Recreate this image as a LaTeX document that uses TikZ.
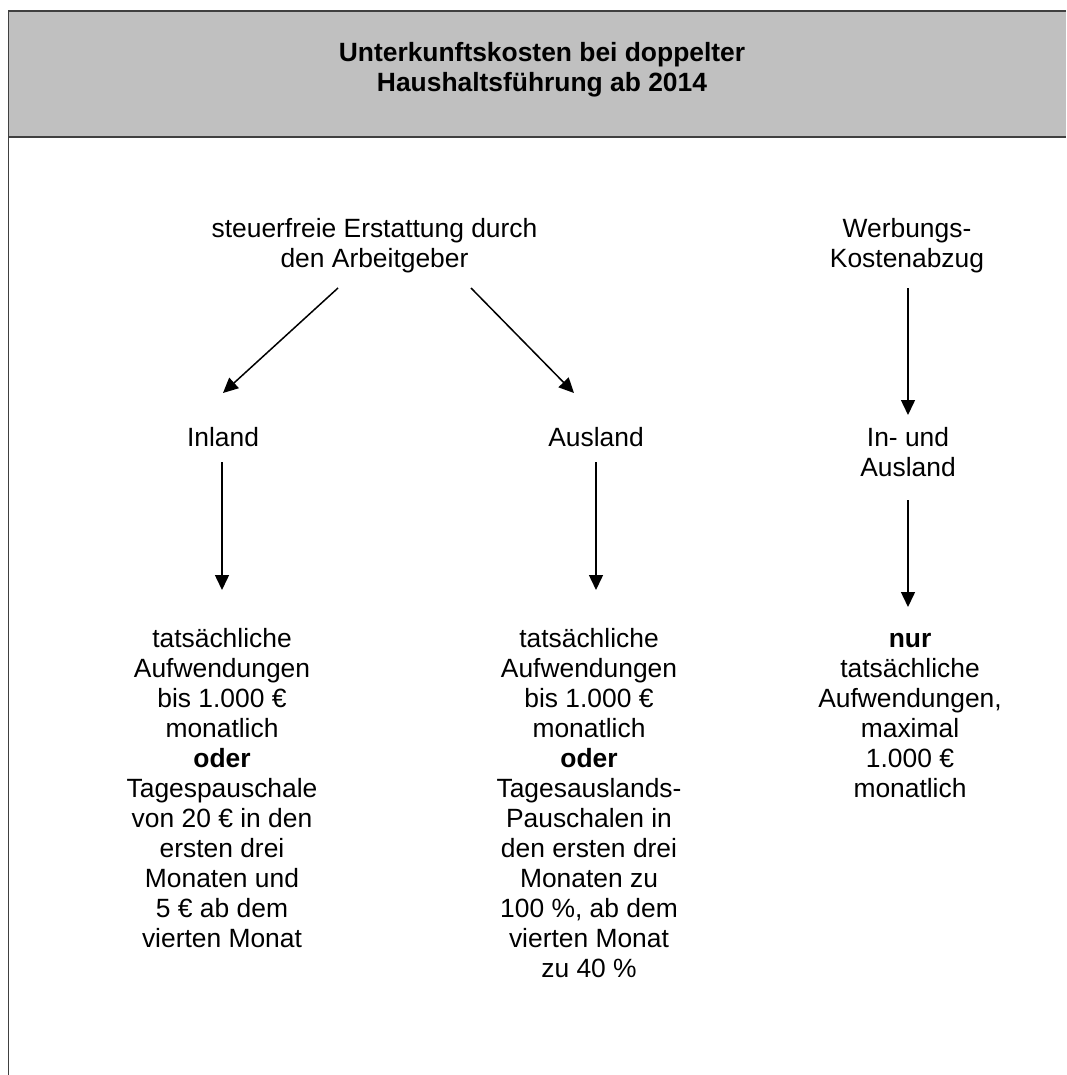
\documentclass[tikz,border=0pt]{standalone}
\usepackage{fontspec}
\setmainfont{Liberation Sans}
\usetikzlibrary{arrows.meta}
\definecolor{hdrgray}{HTML}{C0C0C0}
\definecolor{framecol}{HTML}{404040}
\begin{document}
\begin{tikzpicture}[x=1pt,y=-1pt,
  txt/.style={anchor=base,inner sep=0pt,align=center,font=\fontsize{26.4}{30}\selectfont},
  ttl/.style={anchor=base,inner sep=0pt,align=center,font=\fontsize{26.4}{30}\selectfont\bfseries},
  arr/.style={line width=1.5pt,-{Triangle[length=15pt,width=14pt]}},
  frame/.style={draw=framecol,line width=1.6pt}]
\useasboundingbox (0,0) rectangle (1066,1075);
\fill[hdrgray] (8.5,11) rectangle (1066,137);
\draw[frame] (1066,11) -- (8.5,11) -- (8.5,1075);
\draw[frame] (8.5,137) -- (1066,137);

% multi-line nodes: base anchor = baseline of the last line
\node[ttl] (title) at (542,92) {Unterkunftskosten bei doppelter\\Haushaltsführung ab 2014};

\node[txt] (root) at (374.5,267) {steuerfreie Erstattung durch\\den Arbeitgeber};
\node[txt] (wk) at (907,267) {Werbungs-\\Kostenabzug};
\node[txt] (inland) at (223,446) {Inland};
\node[txt] (ausland) at (596,446) {Ausland};
\node[txt] (inaus) at (908,476) {In- und\\Ausland};

\node[txt] (inbot) at (222,947) {tatsächliche\\Aufwendungen\\bis 1.000 €\\monatlich\\\textbf{oder}\\Tagespauschale\\von 20 € in den\\ersten drei\\Monaten und\\5 € ab dem\\vierten Monat};
\node[txt] (ausbot) at (589,977) {tatsächliche\\Aufwendungen\\bis 1.000 €\\monatlich\\\textbf{oder}\\Tagesauslands-\\Pauschalen in\\den ersten drei\\Monaten zu\\100 \%, ab dem\\vierten Monat\\zu 40 \%};
\node[txt] (wkbot) at (910,797) {\textbf{nur}\\tatsächliche\\Aufwendungen,\\maximal\\1.000 €\\monatlich};

\draw[arr] ([shift={(-36.5,21)}]root.base) -- ([shift={(0,-53)}]inland.base);
\draw[arr] ([shift={(96.5,21)}]root.base) -- ([shift={(-22,-53)}]ausland.base);
\draw[arr] ([shift={(1,21)}]wk.base) -- ([shift={(0,-61)}]inaus.base);
\draw[arr] ([shift={(-1,16)}]inland.base) -- ([shift={(0,-357)}]inbot.base);
\draw[arr] ([shift={(0,16)}]ausland.base) -- ([shift={(7,-387)}]ausbot.base);
\draw[arr] ([shift={(0,24)}]inaus.base) -- ([shift={(-2,-190)}]wkbot.base);
\end{tikzpicture}
\end{document}
